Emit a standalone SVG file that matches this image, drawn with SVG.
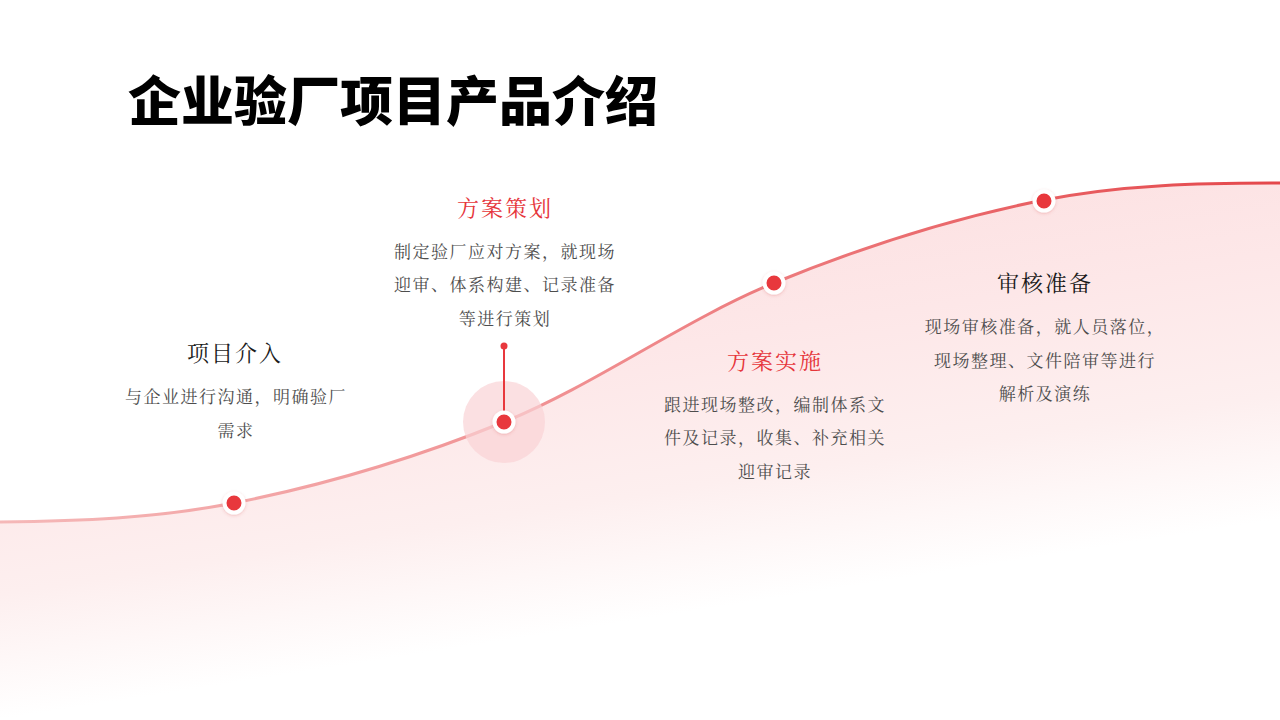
<svg xmlns="http://www.w3.org/2000/svg" width="1280" height="720" viewBox="0 0 1280 720">
  <defs>
    <linearGradient id="areaGrad" gradientUnits="userSpaceOnUse" x1="600" y1="180" x2="668" y2="615">
      <stop offset="0" stop-color="#fcdfe0"/>
      <stop offset="0.4" stop-color="#fde7e8"/>
      <stop offset="0.72" stop-color="#fdefef"/>
      <stop offset="1" stop-color="#ffffff"/>
    </linearGradient>
    <linearGradient id="lineGrad" gradientUnits="userSpaceOnUse" x1="0" y1="0" x2="1280" y2="0">
      <stop offset="0" stop-color="#f5b8b8"/>
      <stop offset="0.45" stop-color="#f08f91"/>
      <stop offset="1" stop-color="#e4474b"/>
    </linearGradient>
    <filter id="shadow" x="-50%" y="-50%" width="200%" height="200%">
      <feDropShadow dx="0" dy="1" stdDeviation="1.5" flood-color="#d04040" flood-opacity="0.25"/>
    </filter>
    <style>
      .title { font-family: "Noto Sans CJK SC", "Noto Sans", sans-serif; font-weight: 900; font-size: 53px; fill: #000; }
      .head { font-family: "Noto Serif CJK SC", "Noto Sans CJK SC", serif; font-size: 22px; letter-spacing: 2px; text-anchor: middle; }
      .dark { fill: #1a1a1a; }
      .red { fill: #e6363b; }
      .desc { font-family: "Noto Serif CJK SC", "Noto Sans CJK SC", serif; font-size: 17px; letter-spacing: 1.5px; fill: #4d4d4d; text-anchor: middle; }
      .dot { fill: #e8383d; stroke: #ffffff; stroke-width: 4; filter: url(#shadow); }
    </style>
  </defs>

  <rect width="1280" height="720" fill="#ffffff"/>

  <path id="area" d="M0,522 C78,521 156,518.4 234,503 C324,485.2 414,458.6 504,422 C594,385.4 684,319.9 774,283 C864,246.1 954,217.8 1044,200 C1122.7,184.4 1201,183 1280,183 L1280,720 L0,720 Z" fill="url(#areaGrad)"/>

  <text class="title" x="128" y="121">企业验厂项目产品介绍</text>

  <g id="connectors">
    <path d="M0,522 C78,521 156,518.4 234,503 C324,485.2 414,458.6 504,422 C594,385.4 684,319.9 774,283 C864,246.1 954,217.8 1044,200 C1122.7,184.4 1201,183 1280,183" fill="none" stroke="url(#lineGrad)" stroke-width="3"/>
  </g>

  <g id="node1">
    <circle class="dot" cx="234" cy="503" r="9.5"/>
    <text class="head dark" x="235" y="361">项目介入</text>
    <text class="desc" x="236" y="403">与企业进行沟通，明确验厂</text>
    <text class="desc" x="236" y="437">需求</text>
  </g>

  <g id="node2">
    <circle cx="504" cy="422" r="41" fill="#f9d3d5" opacity="0.7"/>
    <line x1="504" y1="346" x2="504" y2="414" stroke="#e8383d" stroke-width="2"/>
    <circle cx="504" cy="346" r="3.5" fill="#e8383d"/>
    <circle class="dot" cx="504" cy="422" r="9.5"/>
    <text class="head red" x="505" y="216">方案策划</text>
    <text class="desc" x="505" y="258">制定验厂应对方案，就现场</text>
    <text class="desc" x="505" y="291">迎审、体系构建、记录准备</text>
    <text class="desc" x="505" y="325">等进行策划</text>
  </g>

  <g id="node3">
    <circle class="dot" cx="774" cy="283" r="9.5"/>
    <text class="head red" x="775" y="369">方案实施</text>
    <text class="desc" x="775" y="411">跟进现场整改，编制体系文</text>
    <text class="desc" x="775" y="444">件及记录，收集、补充相关</text>
    <text class="desc" x="775" y="478">迎审记录</text>
  </g>

  <g id="node4">
    <circle class="dot" cx="1044" cy="201" r="9.5"/>
    <text class="head dark" x="1045" y="291">审核准备</text>
    <text class="desc" x="1045" y="333">现场审核准备，就人员落位，</text>
    <text class="desc" x="1045" y="367">现场整理、文件陪审等进行</text>
    <text class="desc" x="1045" y="400">解析及演练</text>
  </g>
</svg>
